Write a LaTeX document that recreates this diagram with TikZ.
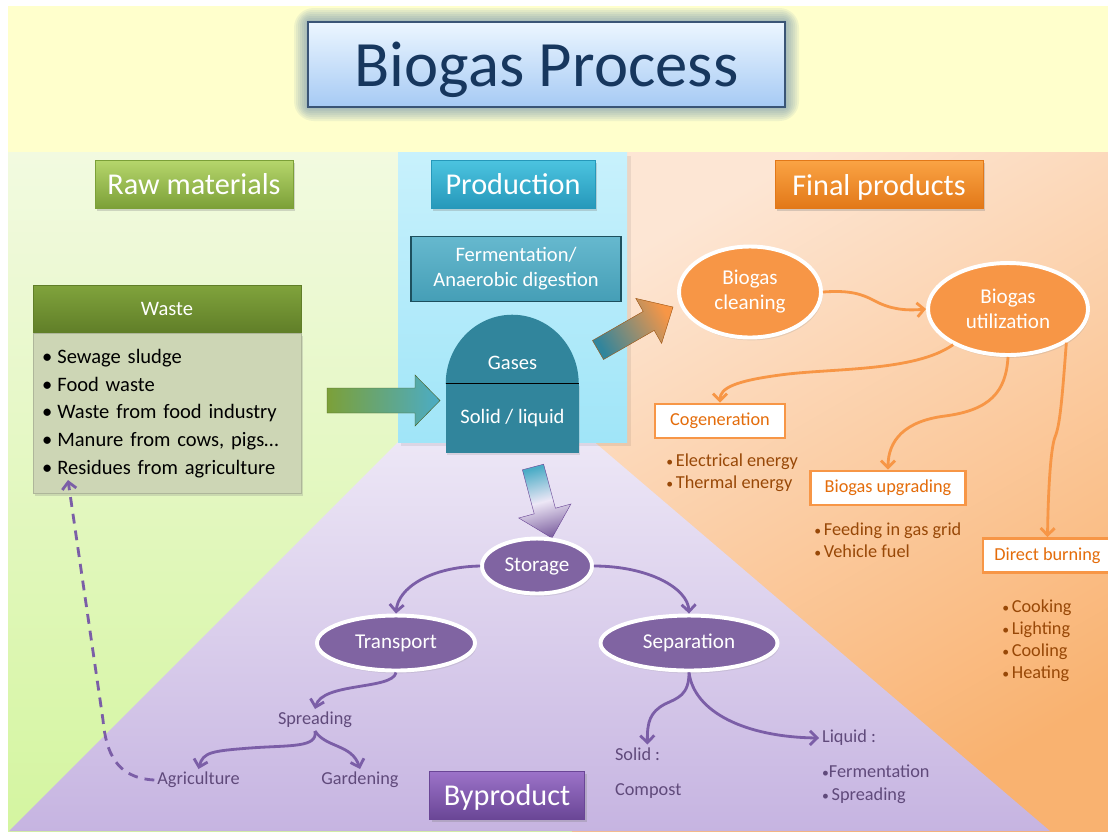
\documentclass[tikz,border=0pt]{standalone}
\usepackage{fontspec}
\setmainfont{Carlito}
\usepackage{graphicx}
\usepackage{tikz}
\usetikzlibrary{positioning,arrows.meta,shapes.geometric,shadows,calc}
\definecolor{bgyellow}{RGB}{255,255,204}
\definecolor{rawtop}{RGB}{242,250,224}
\definecolor{rawbot}{RGB}{212,245,160}
\definecolor{peachtop}{RGB}{253,230,212}
\definecolor{peachbot}{RGB}{249,178,112}
\definecolor{lilactop}{RGB}{237,231,246}
\definecolor{lilacbot}{RGB}{198,180,225}
\definecolor{paneltop}{RGB}{200,241,252}
\definecolor{panelbot}{RGB}{160,229,248}
\definecolor{haze}{RGB}{62,110,165}
\definecolor{navy}{RGB}{23,55,94}
\definecolor{titletop}{RGB}{236,246,255}
\definecolor{titlebot}{RGB}{166,202,244}
\definecolor{leaftop}{RGB}{182,214,108}
\definecolor{leafbot}{RGB}{124,160,56}
\definecolor{sea}{RGB}{75,172,198}
\definecolor{seatop}{RGB}{76,196,224}
\definecolor{seabot}{RGB}{38,152,186}
\definecolor{seadark}{RGB}{49,133,156}
\definecolor{amber}{RGB}{247,150,70}
\definecolor{ambertop}{RGB}{250,163,68}
\definecolor{amberbot}{RGB}{226,120,24}
\definecolor{rust}{RGB}{228,108,10}
\definecolor{umber}{RGB}{152,72,7}
\definecolor{plum}{RGB}{128,100,162}
\definecolor{plumtop}{RGB}{156,115,201}
\definecolor{plumbot}{RGB}{106,70,150}
\definecolor{plumline}{RGB}{123,94,167}
\definecolor{plumtext}{RGB}{96,74,123}
\definecolor{oliveheadtop}{RGB}{128,163,60}
\definecolor{oliveheadbot}{RGB}{96,126,40}
\definecolor{olivebody}{RGB}{205,214,181}
\newcommand*{\px}{0.025cm}
\newcommand*{\bul}{•\hspace{0.25em}}% list bullet
\newcommand*{\smallbul}{\scalebox{0.75}{•}\hspace{0.15em}}% small bullet
\tikzset{%
  banner/.style={draw=navy!85, line width=1.2pt, top color=titletop, bottom color=titlebot,
    text=navy, text depth=0pt, font=\fontsize{46}{50}\selectfont,
    minimum width=477*\px, minimum height=85*\px},% big title
  header/.style={draw=#1, line width=0.5pt, text=white, text depth=0pt,
    font=\fontsize{21.5}{26}\selectfont, minimum height=48*\px,
    drop shadow={opacity=0.3, shadow xshift=1.5pt, shadow yshift=-2pt}},% column titles
  wastehead/.style={draw=oliveheadbot, top color=oliveheadtop, bottom color=oliveheadbot,
    text=white, font=\fontsize{14.6}{17.8}\selectfont, minimum width=268*\px, minimum height=48*\px},
  wastebody/.style={fill=olivebody, draw=olivebody!85!black, line width=0.4pt,
    font=\fontsize{14.6}{19.6}\selectfont, align=left, text width=250*\px, inner xsep=9*\px,
    minimum height=160*\px, drop shadow={opacity=0.25, shadow xshift=1.5pt, shadow yshift=-1.5pt}},
  procbox/.style={draw=seadark!60!black, line width=1.2pt, top color=sea!85!white, bottom color=sea!92!black,
    text=white, align=center, font=\fontsize{14.6}{17.8}\selectfont,
    minimum width=210*\px, minimum height=65*\px},% fermentation box
  tank/.style={fill=seadark, text=white, inner sep=0pt, font=\fontsize{14.6}{17}\selectfont,
    minimum width=133*\px, minimum height=69*\px,
    drop shadow={opacity=0.2, shadow xshift=1pt, shadow yshift=-1.5pt}},
  blob/.style={ellipse, draw=white, line width=2.8pt, text=white, inner sep=0pt, align=center,
    font=\fontsize{15}{17.8}\selectfont,
    drop shadow={opacity=0.18, shadow xshift=1pt, shadow yshift=-2pt}},
  sunblob/.style={blob, fill=amber},% orange ellipses
  plumblob/.style={blob, fill=plum},% purple ellipses
  usage/.style={draw=amber, line width=2pt, fill=white, text=rust,
    font=\fontsize{13}{15.6}\selectfont, minimum height=34*\px},
  perks/.style={text=umber, font=\fontsize{13}{15.6}\selectfont, align=left, anchor=west, inner sep=0pt},
  note/.style={text=plumtext, font=\fontsize{13}{16.4}\selectfont, inner sep=2pt},
  feed/.style={amber, line width=2pt, -{Straight Barb[length=5pt, width=10pt]}},% orange connectors
  flow/.style={plumline, line width=2pt, -{Straight Barb[length=5pt, width=10pt]}},% purple connectors
  recycle/.style={flow, dash pattern=on 7pt off 5pt}
}

\begin{document}
\begin{tikzpicture}[x=\px, y=-\px]
\useasboundingbox (0,0) rectangle (1108,831);
\fill[white] (0,0) rectangle (1108,831);

% backdrop
\fill[bgyellow] (8,6) rectangle (1108,152);
\shade[top color=rawtop, bottom color=rawbot] (8,152) rectangle (600,831);
\shade[top color=peachtop, bottom color=peachbot, shading angle=30] (572,152) rectangle (1108,831);
\shade[top color=lilactop, bottom color=lilacbot] (9,831) -- (400,440) -- (592,440) -- (1050,831) -- cycle;
\fill[black, opacity=0.07] (401,156) rectangle (631,446);
\shade[top color=paneltop, bottom color=panelbot] (398,152) rectangle (627,442);

% title with glow
\foreach \g in {2,4,...,14}
  \fill[haze, opacity=0.08, rounded corners=\g pt] (308-\g,22-\g) rectangle (785+\g,107+\g);
\node[banner] (title) at (546.5,64.5) {Biogas Process};

\node[header=leafbot, top color=leaftop, bottom color=leafbot, minimum width=198*\px] (raw) at (194,184) {Raw materials};
\node[header=seabot, top color=seatop, bottom color=seabot, minimum width=164*\px] (prod) at (513,184) {Production};
\node[header=amberbot, top color=ambertop, bottom color=amberbot, minimum width=208*\px] (final) at (879,184.5) {Final products};
\node[header=plumbot, top color=plumtop, bottom color=plumbot, minimum width=155*\px] (byprod) at (507,795) {Byproduct};

% raw materials
\node[wastehead] (wastehead) at (167,309) {Waste};
\node[wastebody, below=0pt of wastehead] (waste) {\bul Sewage sludge\\\bul Food waste\\\bul Waste from food industry\\\bul Manure from cows, pigs…\\\bul Residues from agriculture};

% digester
\node[procbox] (ferm) at (516,269) {Fermentation/\\Anaerobic digestion};
\node[tank] (tank) at (512.5,418.5) {Solid / liquid};
\fill[seadark] (tank.north west) arc[start angle=180, end angle=360, x radius=66.5, y radius=69] -- cycle;
\draw[line width=1pt] (tank.north west) -- (tank.north east);
\node[text=white, font=\fontsize{14.6}{17}\selectfont] (gases) at (512.5,363) {Gases};

% block arrows
\shade[left color=leafbot, right color=sea, draw=leafbot!60!black, line width=0.3pt]
  (327,388) -- (415,388) -- (415,375) -- (440,400.5) -- (415,426) -- (415,413) -- (327,413) -- cycle;
\shade[top color=amber, bottom color=seadark, shading angle=-60, draw=amberbot!70!black, line width=0.3pt]
  (592.5,340.5) -- (643.2,311.4) -- (635.8,298.4) -- (673,307) -- (661.6,343.4) -- (654.2,330.4) -- (603.5,359.5) -- cycle;
\shade[top color=sea, bottom color=plum, middle color=lilactop, shading angle=15, draw=plumbot, line width=0.3pt]
  (522.4,469.8) -- (534.2,513.8) -- (518.7,518) -- (552,538) -- (570.9,504) -- (555.4,508.2) -- (543.6,464.2) -- cycle;

% final products
\node[sunblob, minimum width=142*\px, minimum height=91*\px] (clean) at (750,292) {Biogas\\cleaning};
\node[sunblob, minimum width=160*\px, minimum height=92*\px] (util) at (1008,309) {Biogas\\utilization};
\node[usage, minimum width=130*\px] (cogen) at (720,421) {Cogeneration};
\node[usage, minimum width=155*\px] (upgr) at (888,488) {Biogas upgrading};
\node[usage, minimum width=129*\px] (burn) at (1047.5,555.5) {Direct burning};
\node[perks] (elec) at (666,473) {\smallbul Electrical energy\\\smallbul Thermal energy};
\node[perks] (grid) at (814,540.5) {\smallbul Feeding in gas grid\\\smallbul Vehicle fuel};
\node[perks] (uses) at (1002,641) {\smallbul Cooking\\\smallbul Lighting\\\smallbul Cooling\\\smallbul Heating};

% byproduct
\node[plumblob, minimum width=110*\px, minimum height=55*\px] (stor) at (537,566) {Storage};
\node[plumblob, minimum width=158*\px, minimum height=55*\px] (tran) at (396,643) {Transport};
\node[plumblob, minimum width=177*\px, minimum height=55*\px] (sep) at (689,643) {Separation};
\node[note] (spread) at (315,720) {Spreading};
\node[note] (agri) at (198.5,780) {Agriculture};
\node[note] (garden) at (360,780) {Gardening};
\node[note, anchor=west] (solid) at (612,754) {Solid :};
\node[note, anchor=west] (compost) at (612,791) {Compost};
\node[note, anchor=west] (liquid) at (819,738) {Liquid :};
\node[note, anchor=west, align=left] (liqlist) at (819,784.5) {\scalebox{0.75}{•}Fermentation\\\smallbul Spreading};
\coordinate (backin) at (68,480);

% gas line
\draw[feed] (clean.east) .. controls (850,290) and (862,294) .. (875,301)
  .. controls (890,309) and (905,311) .. (util.west);
\draw[feed] (util.213) .. controls (915,372) and (830,368) .. (780,375)
  .. controls (735,381) and (720,388) .. (cogen.north);
\draw[feed] (util.south) .. controls (1006,392) and (990,410) .. (945,416)
  .. controls (905,421) and (888,440) .. (upgr.north);
\draw[feed] (util.-30) .. controls (1062,400) and (1060,425) .. (1055,437)
  .. controls (1050,450) and (1048,500) .. (burn.north);

% digestate line
\draw[flow] (stor.west) .. controls (430,567) and (398,588) .. (tran.north);
\draw[flow] (stor.east) .. controls (648,566) and (688,588) .. (sep.north);
\draw[flow] (tran.south) .. controls (393,690) and (322,682) .. (spread.north);
\draw[flow] (spread.south) .. controls (318,748) and (290,745) .. (250,748)
  .. controls (212,751) and (203,752) .. (agri.north);
\draw[flow] (spread.south) .. controls (326,748) and (352,744) .. (garden.north);
\draw[recycle] (agri.west) .. controls (116,778) and (106,752) .. (103,720) -- (backin);
\draw[flow] (sep.south) .. controls (689,695) and (678,698) .. (665,704)
  .. controls (650,712) and (647,722) .. ([xshift=7pt]solid.north);
\draw[flow] (sep.south) .. controls (694,712) and (745,737) .. (liquid.west);
\end{tikzpicture}
\end{document}
